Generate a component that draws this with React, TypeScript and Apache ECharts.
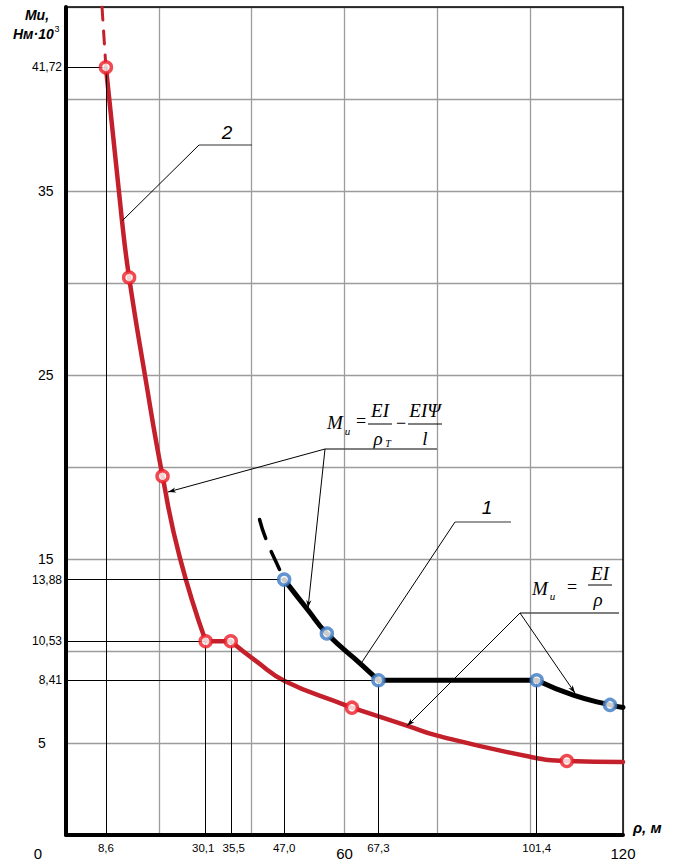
import React, { useEffect, useRef } from "react";
import * as echarts from "echarts";

// ---- axis tick values ----
const xMarkValues = [8.6, 30.1, 35.5, 47.0, 67.3, 101.4];
const xMainTicks = [0, 60, 120];
const yMarkValues = [41.72, 13.88, 10.53, 8.41];
const yMainTicks = [5, 15, 25, 35];

// ---- curve 2 (red) ----
const curve2Dashed = [[7.76, 45], [8.6, 41.72]];
const curve2Steep = [[8.6, 41.72], [12.1, 33.3], [13.6, 30.3], [17.0, 25.0], [20.8, 19.5], [24.5, 15.1], [30.1, 10.53]];
const curve2Flat = [[30.1, 10.53], [35.5, 10.53]];
const curve2Tail = [[35.5, 10.53], [41.1, 9.42], [47.2, 8.36], [60, 7.07], [61.6, 6.92], [73.75, 5.92], [80, 5.4], [100, 4.25], [107.9, 4.02], [120, 3.97]];
const curve2Points = [[8.6, 41.72], [13.6, 30.3], [20.8, 19.5], [30.1, 10.53], [35.5, 10.53], [61.6, 6.92], [107.9, 4.02]];

// ---- curve 1 (black) ----
const curve1Dashed = [[41.7, 17.15], [43.1, 16.07], [46.0, 14.43], [47.0, 13.88]];
const curve1Head = [[47.0, 13.88], [52.2, 12.2], [56.2, 10.95], [63.7, 9.25], [67.3, 8.41]];
const curve1Flat = [[67.3, 8.41], [101.4, 8.41]];
const curve1Tail = [[101.4, 8.41], [109.3, 7.6], [117.2, 7.07], [120, 6.93]];
const curve1Points = [[47.0, 13.88], [56.2, 10.95], [67.3, 8.41], [101.4, 8.41], [117.2, 7.07]];

// ---- guide lines: [y, xEnd] and [x, yEnd] ----
const hGuides = [[41.72, 8.6], [13.88, 47.0], [10.53, 30.1], [8.41, 67.3]];
const vGuides = [[8.6, 41.72], [30.1, 10.53], [35.5, 10.53], [47.0, 13.88], [67.3, 8.41], [101.4, 8.41]];

const RED_LINE = "#c4202b";
const RED_DOT = "#ee1c25";
const BLUE_DOT = "#3b7bc4";
const GRID = "#9c9c9c";
const SANS = '"Liberation Sans", Arial, sans-serif';
const SERIF = '"Liberation Serif", "Times New Roman", serif';

const comma = (v: number, d: number) => v.toFixed(d).replace(".", ",");

function seg(x1: number, y1: number, x2: number, y2: number, color = "#000", w = 1) {
  return { type: "line", silent: true, z: 100, shape: { x1, y1, x2, y2 }, style: { stroke: color, lineWidth: w } };
}
function arrowHead(x1: number, y1: number, x2: number, y2: number) {
  const dx = x2 - x1, dy = y2 - y1;
  const L = Math.hypot(dx, dy);
  const ux = dx / L, uy = dy / L, nx = -uy, ny = ux;
  const len = 8, half = 2.6;
  return {
    type: "polygon", silent: true, z: 100,
    shape: {
      points: [
        [x2, y2],
        [x2 - ux * len + nx * half, y2 - uy * len + ny * half],
        [x2 - ux * len * 0.7, y2 - uy * len * 0.7],
        [x2 - ux * len - nx * half, y2 - uy * len - ny * half],
      ],
    },
    style: { fill: "#000" },
  };
}
function arrow(x1: number, y1: number, x2: number, y2: number) {
  return [seg(x1, y1, x2, y2), arrowHead(x1, y1, x2, y2)];
}
function txt(text: string, x: number, y: number, font: string, align = "center", color = "#000") {
  return { type: "text", silent: true, z: 100, x, y, style: { text, font, fill: color, textAlign: align, textVerticalAlign: "middle" } };
}

const fBig = `italic 19px ${SERIF}`;
const fSub = `italic 11px ${SERIF}`;
const fOp = `18px ${SERIF}`;

const graphics: any[] = [
  // axis titles
  txt("Mu,", 37, 15, `bold italic 14px ${SANS}`),
  txt("Нм·10", 13, 34, `bold italic 14px ${SANS}`, "left"),
  txt("3", 57, 29, `9px ${SANS}`),
  txt("ρ, м", 633, 827, `bold italic 15px ${SANS}`, "left"),
  // label 2
  txt("2", 227, 132, `italic 19px ${SANS}`),
  seg(199, 145, 252, 145, "#333", 1),
  seg(199, 145, 122, 221),
  // label 1
  txt("1", 487, 507, `italic 19px ${SANS}`),
  seg(455, 522, 511, 522, "#333", 1),
  seg(455, 522, 362, 662),
  // formula 1
  txt("M", 335, 422, fBig),
  txt("и", 347.5, 431, fSub),
  txt("=", 361, 421, fOp),
  txt("EI", 380, 410, fBig),
  seg(368, 424, 392, 424, "#000", 1),
  txt("ρ", 378, 438, fBig),
  txt("T", 388, 443, `italic 10px ${SERIF}`),
  txt("−", 401, 423, fOp),
  txt("EIΨ", 425, 410, fBig),
  seg(408, 424, 442, 424, "#000", 1),
  txt("l", 425, 438, fBig),
  seg(325, 449, 437, 449, "#555", 1.5),
  ...arrow(325, 449, 168, 492),
  ...arrow(325, 449, 308, 608),
  // formula 2
  txt("M", 540, 588, fBig),
  txt("и", 552.5, 596, fSub),
  txt("=", 572, 587, fOp),
  txt("EI", 600, 573, fBig),
  seg(588, 585, 612, 585, "#000", 1),
  txt("ρ", 598, 599, fBig),
  seg(520, 613, 619, 613, "#555", 1.5),
  ...arrow(520, 613, 407, 726),
  ...arrow(520, 613, 575, 693),
];

const baseAxis = { type: "value", gridIndex: 0 };
const hidden = { axisLine: { show: false }, axisTick: { show: false }, splitLine: { show: false } };

function lineSeries(data: number[][], color: string, width: number, dashed?: number[], smooth = true) {
  return {
    type: "line", data, smooth: smooth ? 0.5 : false, showSymbol: false, symbol: "none",
    z: 3, silent: true,
    lineStyle: { color, width, type: dashed ?? "solid", cap: "round" },
  };
}
function dotSeries(data: number[][], color: string) {
  return {
    type: "scatter", data, symbol: "circle", symbolSize: 11, z: 5, silent: true,
    itemStyle: { color: "#fff", borderColor: color, borderWidth: 3.5 },
  };
}

const xSmallFmt = (v: number) => {
  if (v === 30.1) return `{l|${comma(v, 1)}}`;
  if (v === 35.5) return `{r|${comma(v, 1)}}`;
  return `{n|${comma(v, 1)}}`;
};
const smallStyle = { fontSize: 11.5, fontFamily: SANS, color: "#000" };

const option: any = {
  animation: false,
  backgroundColor: "#fff",
  grid: { left: 66, top: 7, width: 557, height: 828, containLabel: false },
  xAxis: [
    {
      ...baseAxis, min: 0, max: 120, interval: 20, position: "bottom",
      axisLine: { show: true, onZero: false, lineStyle: { color: "#000", width: 4 } },
      axisTick: { show: false }, axisLabel: { show: false },
      splitLine: { show: true, lineStyle: { color: GRID, width: 1.3 } },
    },
    {
      ...baseAxis, min: 0, max: 120, position: "bottom", ...hidden,
      axisLabel: {
        customValues: xMarkValues, formatter: xSmallFmt, margin: 7,
        rich: {
          n: smallStyle,
          l: { ...smallStyle, padding: [0, 5, 0, 0] },
          r: { ...smallStyle, padding: [0, 0, 0, 6] },
        },
      },
    },
    {
      ...baseAxis, min: 0, max: 120, position: "bottom", ...hidden,
      axisLabel: {
        customValues: xMainTicks, margin: 11, color: "#000",
        formatter: (v: number) => (v === 0 ? "{z|0}" : `{b|${v}}`),
        rich: {
          z: { fontSize: 15, fontFamily: SANS, color: "#000", padding: [0, 56, 0, 0] },
          b: { fontSize: 15, fontFamily: SANS, color: "#000" },
        },
      },
    },
    {
      ...baseAxis, min: 0, max: 120, position: "top",
      axisLine: { show: true, onZero: false, lineStyle: { color: "#000", width: 1.5 } },
      axisTick: { show: false }, axisLabel: { show: false }, splitLine: { show: false },
    },
  ],
  yAxis: [
    {
      ...baseAxis, min: 0, max: 45, interval: 5, position: "left",
      axisLine: { show: true, onZero: false, lineStyle: { color: "#000", width: 4 } },
      axisTick: { show: false }, axisLabel: { show: false },
      splitLine: { show: true, lineStyle: { color: GRID, width: 1.3 } },
    },
    {
      ...baseAxis, min: 0, max: 45, position: "left", ...hidden,
      axisLabel: {
        customValues: yMarkValues, formatter: (v: number) => comma(v, 2),
        fontSize: 12, color: "#000", margin: 4, fontFamily: SANS, align: "right",
      },
    },
    {
      ...baseAxis, min: 0, max: 45, position: "left", ...hidden,
      axisLabel: {
        customValues: yMainTicks, formatter: (v: number) => String(v),
        fontSize: 14, color: "#000", margin: 28, fontFamily: SANS, align: "left",
      },
    },
    {
      ...baseAxis, min: 0, max: 45, position: "right",
      axisLine: { show: true, onZero: false, lineStyle: { color: "#000", width: 1.5 } },
      axisTick: { show: false }, axisLabel: { show: false }, splitLine: { show: false },
    },
  ],
  series: [
    {
      type: "line", data: [[0, 0]], symbol: "none", silent: true, z: 1,
      lineStyle: { width: 0, opacity: 0 },
      markLine: {
        silent: true, symbol: ["none", "none"], label: { show: false }, animation: false,
        lineStyle: { color: "#000", width: 1, type: "solid" },
        emphasis: { disabled: true },
        data: [
          ...hGuides.map(([y, xe]) => [{ coord: [0, y] }, { coord: [xe, y] }]),
          ...vGuides.map(([x, ye]) => [{ coord: [x, 0] }, { coord: [x, ye] }]),
        ],
      },
    },
    lineSeries(curve2Dashed, RED_LINE, 3, [13, 11], false),
    lineSeries(curve2Steep, RED_LINE, 4.5),
    lineSeries(curve2Flat, RED_LINE, 4.5, undefined, false),
    lineSeries(curve2Tail, RED_LINE, 4.5),
    lineSeries(curve1Dashed, "#000", 3.5, [20, 14]),
    lineSeries(curve1Head, "#000", 5),
    lineSeries(curve1Flat, "#000", 5, undefined, false),
    lineSeries(curve1Tail, "#000", 5),
    dotSeries(curve2Points, RED_DOT),
    dotSeries(curve1Points, BLUE_DOT),
  ],
  graphic: { elements: graphics },
};

export default function App() {
  const ref = useRef<HTMLDivElement>(null);
  useEffect(() => {
    document.body.style.margin = "0";
    const chart = echarts.init(ref.current!, null, { renderer: "svg" });
    chart.setOption(option);
    return () => chart.dispose();
  }, []);
  return <div ref={ref} style={{ width: 680, height: 861 }} />;
}
